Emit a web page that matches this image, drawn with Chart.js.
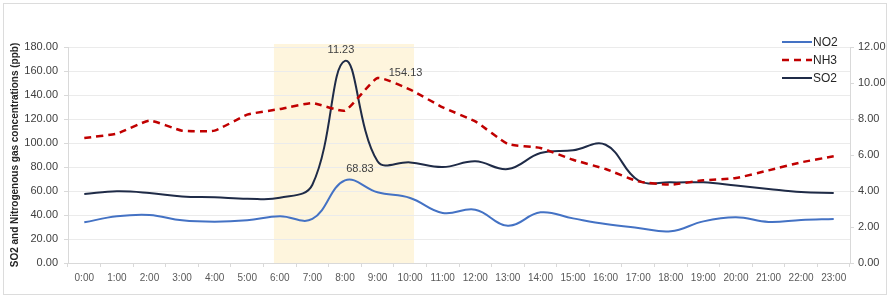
<!DOCTYPE html>
<html>
<head>
<meta charset="utf-8">
<script src="https://cdn.jsdelivr.net/npm/chart.js@4/dist/chart.umd.min.js"></script>
<style>
html,body{margin:0;padding:0;background:#fff;}
#wrap{position:relative;width:891px;height:299px;}
</style>
</head>
<body>
<div id="wrap"><canvas id="c" width="891" height="299"></canvas></div>
<script>
// ---- data ----
const hours = ["0:00","1:00","2:00","3:00","4:00","5:00","6:00","7:00","8:00","9:00","10:00","11:00","12:00","13:00","14:00","15:00","16:00","17:00","18:00","19:00","20:00","21:00","22:00","23:00"];
const no2 = [33.9,38.9,40.0,35.6,34.4,35.6,38.9,36.7,68.83,58.9,54.2,41.7,44.4,31.1,42.2,37.2,32.5,29.2,26.4,34.7,38.1,34.2,35.8,36.7];
const nh3 = [104.2,107.8,118.6,110.3,110.3,123.6,128.3,133.3,127.0,154.13,144.5,129.7,118.0,99.2,95.8,86.0,78.3,68.0,65.3,68.9,70.8,77.2,83.9,88.9];
const so2 = [3.83,3.98,3.89,3.70,3.65,3.57,3.62,4.35,11.23,5.65,5.59,5.33,5.65,5.22,6.11,6.26,6.57,4.59,4.48,4.48,4.30,4.11,3.94,3.89];
const leftTicks = [0,20,40,60,80,100,120,140,160,180];
const rightTicks = [0,2,4,6,8,10,12];
const highlightRange = [5.82, 10.12]; // shaded period (category index units)
const dataLabels = [
  {series:'SO2', index:8, text:'11.23', dx:-4, dy:-11},
  {series:'NH3', index:9, text:'154.13', dx:28, dy:-5},
  {series:'NO2', index:8, text:'68.83', dx:15, dy:-11}
];

const FONT = "'Liberation Sans', Arial, sans-serif";

const bgPlugin = {
  id: 'bg',
  beforeDraw(chart) {
    const ctx = chart.ctx, x = chart.scales.x, y = chart.scales.y;
    ctx.save();
    ctx.fillStyle = '#ffffff';
    ctx.fillRect(0, 0, chart.width, chart.height);
    ctx.strokeStyle = '#DCDCDC';
    ctx.lineWidth = 1;
    ctx.strokeRect(3.5, 3.5, 883, 291);
    const x0 = x.getPixelForValue(highlightRange[0]);
    const x1 = x.getPixelForValue(highlightRange[1]);
    ctx.fillStyle = '#FEF5DD';
    ctx.fillRect(x0, y.top - 3, x1 - x0, y.bottom - y.top + 3);
    ctx.restore();
  }
};

const overlayPlugin = {
  id: 'overlay',
  afterDatasetsDraw(chart) {
    const ctx = chart.ctx;
    ctx.save();
    ctx.font = "11px " + FONT;
    ctx.fillStyle = '#404040';
    ctx.textAlign = 'center';
    ctx.textBaseline = 'middle';
    dataLabels.forEach(l => {
      const di = chart.data.datasets.findIndex(d => d.label === l.series);
      const pt = chart.getDatasetMeta(di).data[l.index];
      ctx.fillText(l.text, pt.x + l.dx, pt.y + l.dy);
    });
    // legend
    const lx = 782, ly = 42, step = 18;
    ctx.textAlign = 'left';
    ctx.font = "12px " + FONT;
    chart.data.datasets.forEach((d, i) => {
      const yy = ly + i * step;
      ctx.beginPath();
      ctx.strokeStyle = d.borderColor;
      ctx.lineWidth = d.borderWidth;
      ctx.setLineDash(d.borderDash || []);
      ctx.moveTo(lx, yy);
      ctx.lineTo(lx + 30, yy);
      ctx.stroke();
      ctx.setLineDash([]);
      ctx.fillStyle = '#262626';
      ctx.fillText(d.label, lx + 31, yy + 1);
    });
    ctx.restore();
  }
};

new Chart(document.getElementById('c'), {
  type: 'line',
  data: {
    labels: hours,
    datasets: [
      {label:'NO2', data:no2, yAxisID:'y', borderColor:'#4472C4', borderWidth:2, tension:0.4, pointRadius:0, fill:false},
      {label:'NH3', data:nh3, yAxisID:'y', borderColor:'#C00000', borderWidth:2.5, borderDash:[7,5], tension:0.15, pointRadius:0, fill:false},
      {label:'SO2', data:so2, yAxisID:'y1', borderColor:'#1F2B47', borderWidth:2, tension:0.4, pointRadius:0, fill:false}
    ]
  },
  options: {
    responsive: false,
    animation: false,
    devicePixelRatio: 1,
    layout: {padding: {left: 0, right: 0, top: 47, bottom: 0}},
    plugins: {legend: {display: false}, tooltip: {enabled: false}},
    scales: {
      x: {
        offset: true,
        grid: {display: true, drawOnChartArea: false, drawTicks: true, tickLength: 4, color: '#D9D9D9', offset: true},
        border: {color: '#D9D9D9'},
        ticks: {color: '#595959', font: {family: FONT, size: 10}, padding: 5, maxRotation: 0, autoSkip: false},
        afterFit(s) { s.height = 36; }
      },
      y: {
        position: 'left',
        min: 0, max: 180,
        afterBuildTicks(s) { s.ticks = leftTicks.map(v => ({value: v})); },
        grid: {color: '#EBEBEB', tickColor: '#D9D9D9', tickLength: 4},
        border: {color: '#D9D9D9'},
        ticks: {color: '#404040', font: {family: FONT, size: 11}, padding: 6, callback: v => v.toFixed(2)},
        title: {display: true, text: 'SO2 and Nitrogenous gas concentrations (ppb)', color: '#262626', font: {family: FONT, size: 10, weight: 'bold'}, padding: {top: 9, bottom: 0}},
        afterFit(s) { s.width = 68; }
      },
      y1: {
        position: 'right',
        min: 0, max: 12,
        afterBuildTicks(s) { s.ticks = rightTicks.map(v => ({value: v})); },
        grid: {drawOnChartArea: false, tickColor: '#D9D9D9', tickLength: 4},
        border: {color: '#D9D9D9'},
        ticks: {color: '#404040', font: {family: FONT, size: 11}, padding: 4, callback: v => v.toFixed(2)},
        afterFit(s) { s.width = 41; }
      }
    }
  },
  plugins: [bgPlugin, overlayPlugin]
});
</script>
</body>
</html>
